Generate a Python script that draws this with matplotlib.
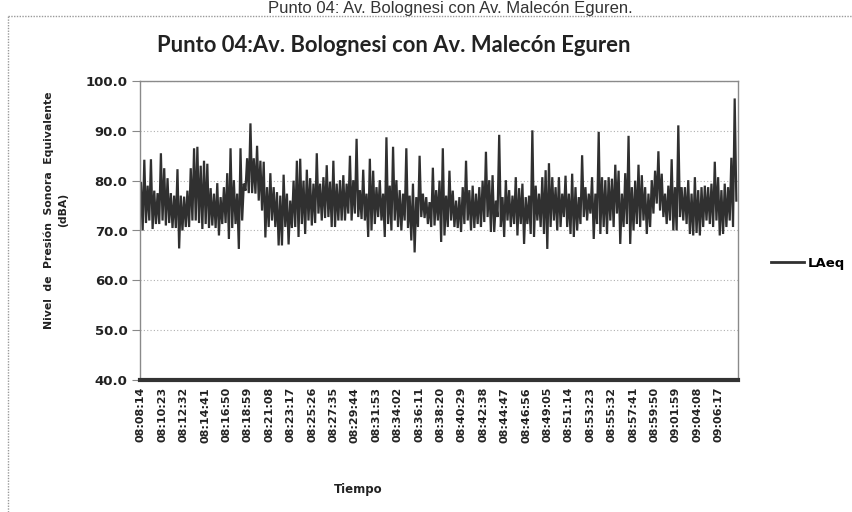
import numpy as np
import matplotlib
matplotlib.use("Agg")
import matplotlib.pyplot as plt
from matplotlib.lines import Line2D

# ---- data (local tops and local bottoms, alternating every 10 s) ----
upper = [
    79.5, 84.2, 79.0, 84.3, 78.0, 77.5, 85.5, 82.5, 80.5, 77.5, 77.0, 82.3, 77.0, 76.8, 78.0, 82.5, 86.5, 86.8,
    83.0, 84.0, 83.4, 78.5, 77.4, 79.5, 76.7, 78.7, 81.5, 86.5, 80.1, 77.4, 86.5, 79.4, 84.5, 91.5, 84.5, 87.0,
    84.0, 83.8, 78.7, 81.5, 78.7, 77.7, 77.0, 81.2, 77.4, 76.0, 80.0, 84.0, 84.4, 80.0, 82.2, 80.5, 79.4, 85.5,
    79.4, 80.7, 83.1, 79.8, 84.0, 79.4, 80.1, 81.1, 79.4, 85.0, 80.1, 88.4, 78.1, 82.2, 77.4, 84.4, 82.0, 78.7,
    80.1, 77.4, 88.7, 79.0, 86.8, 80.1, 78.1, 77.4, 86.5, 77.0, 79.4, 76.7, 85.0, 77.4, 76.7, 75.7, 82.6, 78.1,
    80.0, 86.5, 77.0, 82.0, 78.0, 76.0, 76.7, 78.7, 84.0, 78.1, 79.0, 77.4, 78.7, 80.0, 85.8, 80.1, 81.1, 76.0,
    89.2, 76.7, 80.1, 78.1, 77.0, 80.7, 78.5, 79.4, 76.7, 77.0, 90.1, 79.0, 77.4, 80.7, 82.1, 83.5, 80.7, 78.7,
    80.7, 77.4, 81.0, 77.4, 81.4, 78.7, 76.7, 85.1, 78.7, 77.4, 80.7, 77.4, 89.8, 80.7, 80.1, 80.7, 80.4, 83.2,
    82.0, 77.4, 81.5, 89.0, 78.7, 80.0, 83.2, 81.1, 78.7, 77.4, 80.1, 82.0, 85.9, 81.4, 77.4, 79.0, 84.3, 78.7,
    91.1, 78.7, 78.7, 80.1, 77.4, 80.7, 78.1, 78.7, 79.0, 78.7, 79.4, 83.8, 80.7, 78.1, 79.4, 78.7, 84.6, 96.5,
]
lower = [
    70.0, 71.5, 72.0, 70.3, 71.3, 71.3, 72.0, 71.0, 71.5, 70.5, 70.5, 66.4, 70.0, 70.7, 70.7, 72.0, 72.0, 71.5,
    70.3, 71.3, 70.5, 71.0, 70.5, 69.0, 71.3, 71.5, 68.3, 70.5, 71.3, 66.3, 72.0, 78.0, 77.5, 77.5, 77.4, 76.0,
    74.0, 68.6, 70.7, 72.0, 70.7, 67.0, 67.0, 70.7, 67.2, 70.5, 70.7, 68.7, 71.3, 69.3, 72.0, 71.0, 71.5, 73.4,
    72.0, 72.5, 72.7, 70.7, 70.7, 72.0, 72.0, 72.0, 73.4, 72.0, 73.4, 72.7, 72.3, 72.0, 68.7, 70.0, 71.3, 72.7,
    72.0, 68.7, 71.3, 70.0, 72.0, 70.7, 70.0, 72.0, 70.5, 68.0, 65.6, 70.7, 72.7, 72.5, 71.3, 70.7, 71.0, 72.0,
    67.7, 69.0, 70.7, 72.0, 70.7, 70.5, 69.7, 71.3, 72.0, 70.0, 70.5, 71.3, 70.7, 71.7, 72.7, 69.7, 69.7, 72.7,
    70.7, 68.7, 72.0, 70.7, 71.3, 69.0, 71.3, 67.3, 71.3, 69.3, 68.7, 72.0, 70.7, 69.3, 66.3, 70.7, 72.0, 70.0,
    70.7, 72.7, 70.7, 69.3, 68.7, 70.0, 71.3, 72.7, 72.0, 73.4, 68.3, 71.3, 69.3, 70.7, 69.3, 72.0, 70.7, 73.4,
    67.3, 70.7, 71.3, 67.3, 70.0, 71.3, 70.7, 72.0, 69.3, 70.7, 73.4, 75.4, 74.0, 72.7, 71.3, 72.0, 70.0, 70.0,
    72.7, 72.0, 71.3, 69.3, 69.0, 69.5, 69.0, 70.7, 72.0, 71.3, 70.7, 72.0, 69.0, 69.3, 70.7, 72.0, 70.7, 76.0,
]
tick_labels = [
    "08:08:14", "08:10:23", "08:12:32", "08:14:41", "08:16:50", "08:18:59", "08:21:08",
    "08:23:17", "08:25:26", "08:27:35", "08:29:44", "08:31:53", "08:34:02", "08:36:11",
    "08:38:20", "08:40:29", "08:42:38", "08:44:47", "08:46:56", "08:49:05", "08:51:14",
    "08:53:23", "08:55:32", "08:57:41", "08:59:50", "09:01:59", "09:04:08", "09:06:17",
]
y_ticks = [40, 50, 60, 70, 80, 90, 100]
series_name = "LAeq"
tick_step_s = 129
sample_step_s = 10

laeq = np.empty(2 * len(upper))
laeq[0::2] = upper
laeq[1::2] = lower
t = np.arange(len(laeq)) * sample_step_s
tick_pos = np.arange(len(tick_labels)) * tick_step_s

# ---- figure ----
W, H = 852, 512
fig = plt.figure(figsize=(W / 100, H / 100), dpi=100)
fig.patch.set_facecolor("white")

# outer dotted frame of the scanned chart
fig.add_artist(Line2D([8 / W, 1.0], [1 - 16 / H, 1 - 16 / H], transform=fig.transFigure,
                      color="#9a9a9a", lw=1.0, ls=(0, (1, 1))))
fig.add_artist(Line2D([8 / W, 8 / W], [0, 1 - 16 / H], transform=fig.transFigure,
                      color="#9a9a9a", lw=1.0, ls=(0, (1, 1))))

# caption at the top of the scan
fig.text(450 / W, 1 - 0.5 / H, "Punto 04: Av. Bolognesi con Av. Malecón Eguren.",
         ha="center", va="top", fontsize=12, family="Liberation Sans", color="#333333")

# chart title
fig.text(394 / W, 1 - 46 / H, "Punto 04:Av. Bolognesi con Av. Malecón Eguren",
         ha="center", va="center", fontsize=15.8, fontweight="bold", family="Lato",
         color="#222222")

ax = fig.add_axes([140 / W, 1 - 380 / H, (738 - 140) / W, (380 - 81) / H])
ax.plot(t, laeq, color="#303030", lw=1.6, label=series_name, solid_joinstyle="miter")

ax.set_xlim(-6, 3600)
ax.set_ylim(40, 100)
ax.set_yticks(y_ticks)
ax.set_yticklabels([f"{v:.1f}" for v in y_ticks], fontsize=9.5, fontweight="bold",
                   family="DejaVu Sans", color="#222222")
ax.set_xticks(tick_pos)
ax.set_xticklabels(tick_labels, rotation=90, fontsize=8, fontweight="bold",
                   family="DejaVu Sans", color="#222222")
ax.tick_params(axis="y", length=6, width=0.8, color="#888888", pad=3)
ax.tick_params(axis="x", length=0, pad=5)
ax.grid(axis="y", color="#b0b0b0", ls=(0, (1, 2)), lw=0.8)
ax.set_axisbelow(True)
for s in ("top", "right", "left"):
    ax.spines[s].set_color("#8a8a8a")
    ax.spines[s].set_linewidth(1.0)
ax.spines["bottom"].set_color("#333333")
ax.spines["bottom"].set_linewidth(3.0)

ax.set_ylabel("Nivel  de  Presión  Sonora  Equivalente\n(dBA)", fontsize=7.8,
              fontweight="bold", family="DejaVu Sans", color="#222222",
              linespacing=1.5, ha="center", va="center")
ax.yaxis.set_label_coords((56 - 140) / 598, (380 - 210) / 299)
ax.set_xlabel("Tiempo", fontsize=8.5, fontweight="bold", family="DejaVu Sans",
              color="#222222", ha="center", va="center")
ax.xaxis.set_label_coords((358 - 140) / 598, (380 - 490) / 299)

leg = ax.legend(loc="center left", bbox_to_anchor=(1.035, 0.39), frameon=False,
                handlelength=2.5, handletextpad=0.3,
                prop={"size": 9.5, "weight": "bold", "family": "DejaVu Sans"})
for h in leg.get_lines():
    h.set_linewidth(2.0)

fig.savefig("out.png", dpi=100, facecolor="white")
